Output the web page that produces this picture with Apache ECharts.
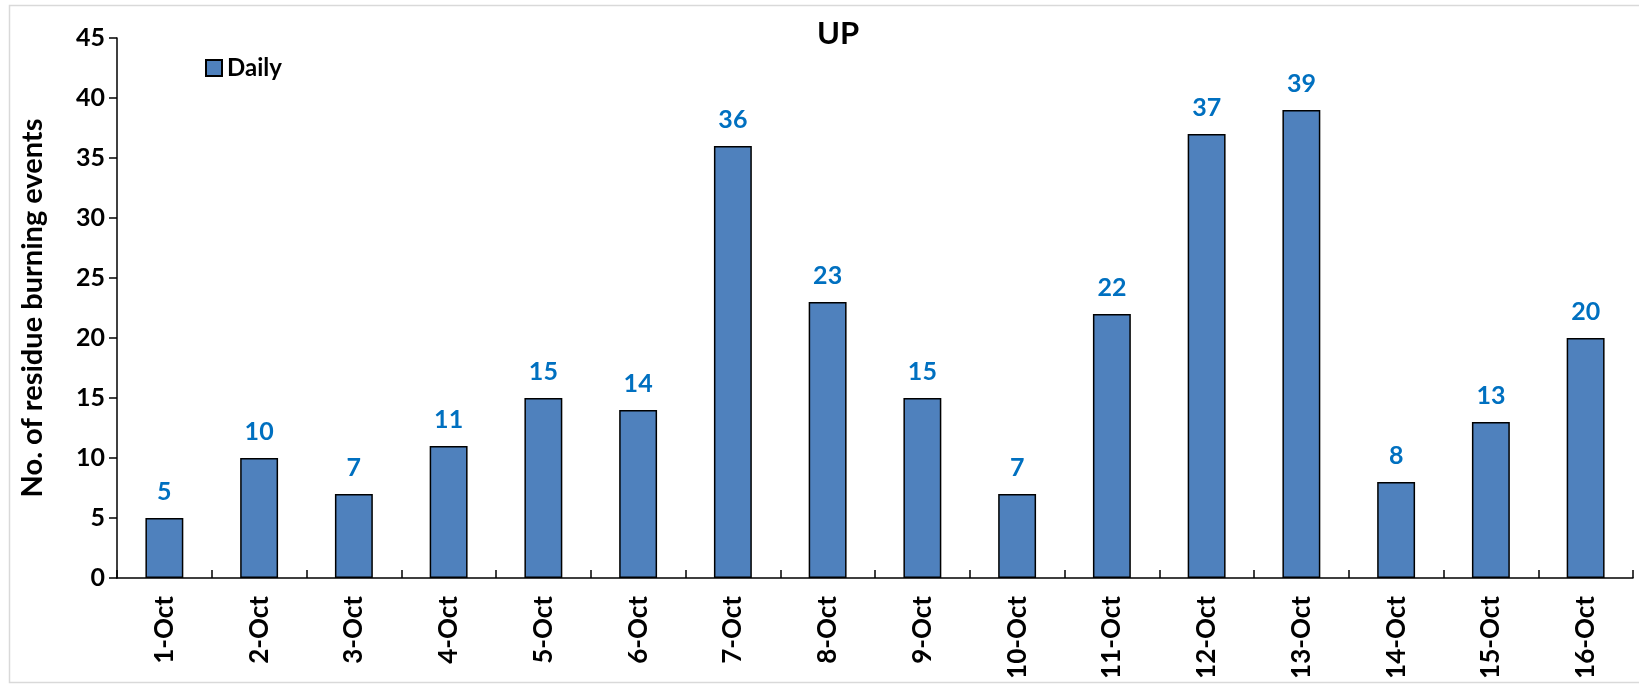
<!DOCTYPE html>
<html>
<head>
<meta charset="utf-8">
<script src="https://cdn.jsdelivr.net/npm/echarts@6/dist/echarts.min.js"></script>
<style>
  html, body { margin: 0; padding: 0; background: #fff; }
  #main { width: 1639px; height: 685px; }
</style>
</head>
<body>
<div id="main"></div>
<script>
// data
var days = ['1-Oct', '2-Oct', '3-Oct', '4-Oct', '5-Oct', '6-Oct', '7-Oct', '8-Oct',
            '9-Oct', '10-Oct', '11-Oct', '12-Oct', '13-Oct', '14-Oct', '15-Oct', '16-Oct'];
var daily = [5, 10, 7, 11, 15, 14, 36, 23, 15, 7, 22, 37, 39, 8, 13, 20];
var yTicks = [0, 45, 5]; // min, max, step

var font = 'Lato, "Open Sans", sans-serif';

var myChart = echarts.init(document.getElementById('main'));
var option = {
    backgroundColor: '#fff',
    animation: false,
    textStyle: { fontFamily: font },
    graphic: [{
        type: 'rect',
        shape: { x: 9.5, y: 5.5, width: 1640, height: 677 },
        style: { fill: 'none', stroke: '#d9d9d9', lineWidth: 1.5 },
        silent: true
    }],
    title: {
        text: 'UP',
        left: 833,
        top: 13,
        textAlign: 'center',
        textStyle: { fontFamily: font, fontWeight: 'bold', fontSize: 31, color: '#000' }
    },
    legend: {
        data: ['Daily'],
        left: 200,
        top: 51,
        itemWidth: 16,
        itemHeight: 16,
        itemGap: 6,
        icon: 'rect',
        textStyle: { fontFamily: font, fontWeight: 'bold', fontSize: 24, color: '#000' }
    },
    grid: { left: 117, right: 6, top: 38, bottom: 107, containLabel: false },
    xAxis: {
        type: 'category',
        data: days,
        axisLine: { lineStyle: { color: '#000', width: 1.5 } },
        axisTick: { show: true, inside: true, length: 8, alignWithLabel: false,
                    lineStyle: { color: '#000', width: 1.5 } },
        axisLabel: { rotate: 90, margin: 18, fontFamily: font, fontWeight: 'bold',
                     fontSize: 26, color: '#000' }
    },
    yAxis: {
        type: 'value',
        min: yTicks[0],
        max: yTicks[1],
        interval: yTicks[2],
        name: 'No. of residue burning events',
        nameLocation: 'middle',
        nameGap: 70,
        nameTextStyle: { fontFamily: font, fontWeight: 'bold', fontSize: 29, color: '#000' },
        splitLine: { show: false },
        axisLine: { show: true, lineStyle: { color: '#000', width: 1.5 } },
        axisTick: { show: true, length: 8, lineStyle: { color: '#000', width: 1.5 } },
        axisLabel: { margin: 12, fontFamily: font, fontWeight: 'bold', fontSize: 25, color: '#000' }
    },
    series: [{
        name: 'Daily',
        type: 'bar',
        data: daily,
        barWidth: '40%',
        itemStyle: { color: '#4F81BD', borderColor: '#000', borderWidth: 1.5 },
        label: {
            show: true,
            position: 'top',
            distance: 14,
            fontFamily: font,
            fontWeight: 'bold',
            fontSize: 25,
            color: '#0070C0'
        }
    }]
};
myChart.setOption(option);
</script>
</body>
</html>
